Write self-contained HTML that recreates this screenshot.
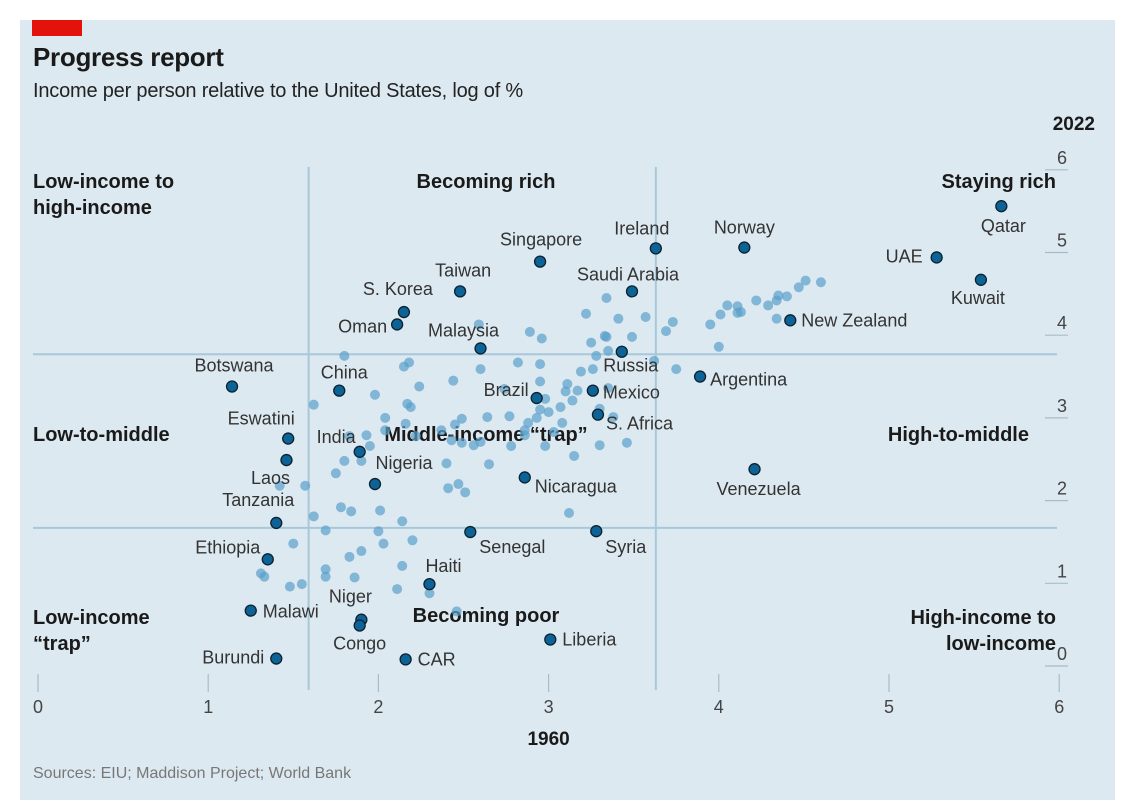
<!DOCTYPE html>
<html><head><meta charset="utf-8">
<style>
html,body{margin:0;padding:0;background:#fff;}
body{width:1125px;height:811px;position:relative;overflow:hidden;font-family:"Liberation Sans",sans-serif;}
#panel{position:absolute;left:20px;top:20px;width:1095px;height:780px;background:#dde9f1;}
#tag{position:absolute;left:32px;top:20px;width:50px;height:16px;background:#e3120b;}
#title{position:absolute;left:33px;top:42px;font-size:26px;font-weight:bold;color:#1a1a1a;letter-spacing:-0.3px;}
#subtitle{position:absolute;left:33px;top:80px;font-size:20px;color:#222;letter-spacing:-0.2px;}
svg{position:absolute;left:0;top:0;}
</style></head>
<body>
<div id="panel"></div>
<div id="tag"></div>
<div id="title">Progress report</div>
<div id="subtitle">Income per person relative to the United States, log of %</div>
<svg id="chart" width="1125" height="811"></svg>
<script>
const xTicks = [0,1,2,3,4,5,6];
const yTicks = [0,1,2,3,4,5,6];
const xThresholds = [1.59, 3.63];
const yThresholds = [3.77, 1.67];
const bgX = [4.51,4.60,4.47,4.40,4.35,4.34,4.29,4.22,4.11,4.05,4.13,4.11,4.01,3.95,4.34,3.73,3.69,3.57,3.41,3.34,3.22,3.33,3.34,3.49,3.25,3.35,3.28,3.62,3.75,4.00,3.26,3.19,3.11,3.10,3.17,3.35,2.95,2.95,2.82,2.89,2.96,2.59,2.60,2.44,2.24,2.18,1.80,1.98,2.17,2.19,1.62,2.04,2.04,1.83,1.93,1.95,1.80,1.75,2.16,2.22,2.49,2.45,2.64,2.77,2.88,2.86,2.86,2.78,2.60,2.49,2.43,2.40,2.56,2.65,3.15,3.30,3.46,3.38,3.30,3.14,3.07,3.00,3.08,2.98,3.03,2.93,2.95,2.98,2.74,1.57,1.62,1.78,1.84,2.01,2.41,2.47,2.51,3.12,1.69,2.00,2.14,2.20,2.03,1.90,1.83,1.69,1.69,1.86,2.14,2.11,1.50,1.31,1.33,1.48,1.55,2.30,2.46,1.42,1.90,2.15,2.37];
const bgY = [4.66,4.64,4.58,4.47,4.48,4.42,4.36,4.42,4.35,4.36,4.28,4.27,4.25,4.13,4.20,4.16,4.05,4.22,4.20,4.45,4.26,3.99,3.98,3.98,3.91,3.81,3.75,3.69,3.59,3.86,3.59,3.56,3.41,3.32,3.33,3.36,3.44,3.65,3.67,4.04,3.96,4.13,3.59,3.45,3.38,3.67,3.75,3.28,3.17,3.13,3.16,3.00,2.85,2.78,2.79,2.66,2.48,2.33,2.93,2.78,2.99,2.92,3.01,3.02,2.94,2.85,2.79,2.66,2.71,2.70,2.73,2.45,2.67,2.44,2.54,2.67,2.70,3.01,3.11,3.21,3.13,3.07,2.94,2.66,2.83,3.00,3.10,3.23,3.35,2.18,1.81,1.92,1.87,1.88,2.15,2.20,2.10,1.85,1.64,1.63,1.75,1.52,1.48,1.39,1.32,1.17,1.08,1.07,1.21,0.93,1.48,1.12,1.08,0.96,0.99,0.88,0.66,2.18,2.48,3.62,2.85];
const hlNames = ["Qatar","UAE","Kuwait","Norway","Ireland","Singapore","Saudi Arabia","Taiwan","S. Korea","Oman","Malaysia","Russia","New Zealand","Argentina","Botswana","China","Brazil","Mexico","S. Africa","Eswatini","India","Laos","Nigeria","Nicaragua","Venezuela","Tanzania","Senegal","Syria","Ethiopia","Haiti","Malawi","Niger","Congo","Liberia","Burundi","CAR"];
const hlX = [5.66,5.28,5.54,4.15,3.63,2.95,3.49,2.48,2.15,2.11,2.60,3.43,4.42,3.89,1.14,1.77,2.93,3.26,3.29,1.47,1.89,1.46,1.98,2.86,4.21,1.40,2.54,3.28,1.35,2.30,1.25,1.90,1.89,3.01,1.40,2.16];
const hlY = [5.56,4.94,4.67,5.06,5.05,4.89,4.53,4.53,4.28,4.13,3.84,3.80,4.18,3.50,3.38,3.33,3.24,3.33,3.04,2.75,2.59,2.49,2.20,2.28,2.38,1.73,1.62,1.63,1.29,0.99,0.67,0.56,0.49,0.32,0.09,0.08];
// label placement (layout, not data): [dx, dy, anchor]
const labelPlace = {"Qatar":[2,26,"middle"],"UAE":[-14,5,"end"],"Kuwait":[-3,24,"middle"],"Norway":[0,-14,"middle"],"Ireland":[-14,-14,"middle"],"Singapore":[1,-16,"middle"],"Saudi Arabia":[-4,-11,"middle"],"Taiwan":[3,-15,"middle"],"S. Korea":[-6,-17,"middle"],"Oman":[-10,8,"end"],"Malaysia":[-17,-12,"middle"],"Russia":[9,20,"middle"],"New Zealand":[11,6,"start"],"Argentina":[10,9,"start"],"Botswana":[2,-15,"middle"],"China":[5,-12,"middle"],"Brazil":[-8,-2,"end"],"Mexico":[10,8,"start"],"S. Africa":[8,15,"start"],"Eswatini":[-27,-14,"middle"],"India":[-4,-9,"end"],"Laos":[-16,24,"middle"],"Nigeria":[29,-15,"middle"],"Nicaragua":[10,15,"start"],"Venezuela":[4,26,"middle"],"Tanzania":[-18,-17,"middle"],"Senegal":[9,21,"start"],"Syria":[9,22,"start"],"Ethiopia":[-40,-6,"middle"],"Haiti":[14,-12,"middle"],"Malawi":[12,7,"start"],"Niger":[-11,-17,"middle"],"Congo":[0,24,"middle"],"Liberia":[12,6,"start"],"Burundi":[-12,5,"end"],"CAR":[12,6,"start"]};

const NS = "http://www.w3.org/2000/svg";
const svg = document.getElementById("chart");
const X0 = 38, XU = 170.2, Y0 = 666, YU = 82.7;
function xs(v){ return X0 + v*XU; }
function ys(v){ return Y0 - v*YU; }
function mk(tag, attrs, parent){
  const e = document.createElementNS(NS, tag);
  for (const k in attrs) e.setAttribute(k, attrs[k]);
  (parent||svg).appendChild(e);
  return e;
}
function txt(s, x, y, size, weight, fill, anchor){
  const t = mk("text", {x:x, y:y, "font-size":size, "font-weight":weight, fill:fill, "text-anchor":anchor, "font-family":"Liberation Sans, sans-serif"});
  t.textContent = s;
  return t;
}
// threshold lines
xThresholds.forEach(v=>{
  const l = mk("line",{x1:xs(v),x2:xs(v),y1:167,y2:690,stroke:"#a8c8da","stroke-width":2});
  
  
});
yThresholds.forEach(v=>{
  const l = mk("line",{x1:33,x2:1057,y1:ys(v),y2:ys(v),stroke:"#a8c8da","stroke-width":2});
  
  
});
// y axis
yTicks.forEach(v=>{
  const l = mk("line",{x1:1045,x2:1068,y1:ys(v),y2:ys(v),stroke:"#a8bcc8","stroke-width":1.2});
  
  
  const t = txt(String(v), 1067, ys(v)-6, 18, "normal", "#444", "end");
  
  
});
const yt = txt("2022", 1095, 130, 19, "bold", "#1a1a1a", "end");


// x axis
xTicks.forEach(v=>{
  const l = mk("line",{x1:xs(v),x2:xs(v),y1:674,y2:692,stroke:"#a8bcc8","stroke-width":1.2});
  
  
  const t = txt(String(v), xs(v), 713, 18, "normal", "#444", "middle");
  
  
});
const xt = txt("1960", xs(3), 745, 19, "bold", "#1a1a1a", "middle");


const src = txt("Sources: EIU; Maddison Project; World Bank", 33, 778, 16, "normal", "#777", "start");


// region labels
const regions = [
 [["Low-income to","high-income"],33,188,"start"],
 [["Becoming rich"],486,188,"middle"],
 [["Staying rich"],1056,188,"end"],
 [["Low-to-middle"],33,441,"start"],
 [["Middle-income \u201ctrap\u201d"],486,441,"middle"],
 [["High-to-middle"],1029,441,"end"],
 [["Low-income","\u201ctrap\u201d"],33,624,"start"],
 [["Becoming poor"],486,622,"middle"],
 [["High-income to","low-income"],1056,624,"end"]
];
regions.forEach(r=>{
  r[0].forEach((line,i)=>{
    const t = txt(line, r[1], r[2]+i*26, 20, "bold", "#1a1a1a", r[3]);
    
    
  });
});
// background points
bgX.forEach((v,i)=>{
  const c = mk("circle",{cx:xs(v),cy:ys(bgY[i]),r:5,fill:"#5a9fca","fill-opacity":0.7});
  
  
});
// highlighted points
hlNames.forEach((n,i)=>{
  const cx = xs(hlX[i]), cy = ys(hlY[i]);
  const c = mk("circle",{cx:cx,cy:cy,r:5.5,fill:"#0d6396",stroke:"#0b2230","stroke-width":1.3});
  
  
  const p = labelPlace[n];
  const t = txt(n, cx+p[0], cy+p[1], 18, "normal", "#333", p[2]);
  
  
});
</script>
</body></html>
